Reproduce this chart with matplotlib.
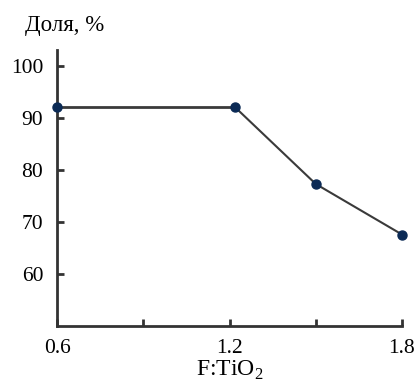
#!/usr/bin/env python3
# coding: utf-8

import matplotlib
matplotlib.use('Agg')
from matplotlib import pyplot as plt

RATIO = [0.6, 1.22, 1.5, 1.8]
SHARE = [92.0, 92.0, 77.3, 67.6]
XTICKS = [0.6, 1.2, 1.8]
XMINOR = [0.9, 1.5]
YTICKS = [60, 70, 80, 90, 100]

TITLE = 'Доля, %'
XLABEL = 'F:TiO$_2$'


def main():
    plt.rcParams['font.family'] = ['Liberation Serif', 'DejaVu Serif']
    plt.rcParams['mathtext.fontset'] = 'custom'
    plt.rcParams['mathtext.rm'] = 'Liberation Serif'

    fig = plt.figure(figsize=(4.17, 3.92), dpi=100)
    ax = fig.add_axes([0.137, 0.168, 0.827, 0.704])

    ax.plot(RATIO[:2], SHARE[:2], color='#3a3a3a', lw=2.0, clip_on=False, zorder=2)
    ax.plot(RATIO[1:], SHARE[1:], color='#3a3a3a', lw=1.5, clip_on=False, zorder=2)
    ax.plot(RATIO, SHARE, ls='', marker='o', ms=6.5, color='#0b2a55',
            clip_on=False, zorder=3)

    ax.set_xlim(0.6, 1.8)
    ax.set_ylim(50, 103)
    ax.set_xticks(XTICKS)
    ax.set_xticklabels([f'{v:.1f}' for v in XTICKS])
    ax.set_xticks(XMINOR, minor=True)
    ax.set_yticks(YTICKS)

    for side in ('top', 'right'):
        ax.spines[side].set_visible(False)
    for side in ('left', 'bottom'):
        ax.spines[side].set_linewidth(2)
        ax.spines[side].set_color('#333333')

    ax.tick_params(which='both', direction='in', length=5, width=2,
                   color='#333333', labelsize=15.5)
    ax.tick_params(axis='y', pad=10)
    ax.tick_params(axis='x', pad=9)

    ax.set_xlabel(XLABEL, fontsize=17, labelpad=1)
    fig.text(0.06, 0.935, TITLE, fontsize=16.5, ha='left', va='center')

    fig.savefig('out.png', dpi=100)


if __name__ == '__main__':
    main()
